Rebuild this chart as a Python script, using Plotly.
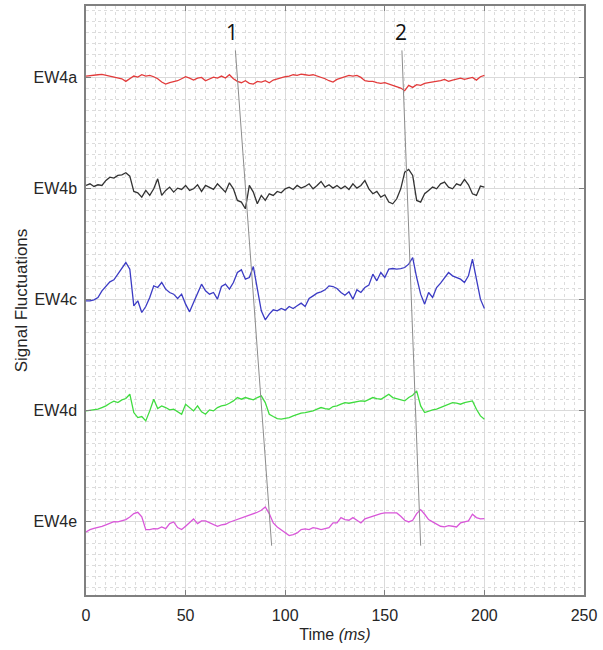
import plotly.graph_objects as go

# ---------------- data ----------------
time_ms = list(range(0, 201, 2))

channel_names = ["EW4a", "EW4b", "EW4c", "EW4d", "EW4e"]
channel_offsets = [500, 400, 300, 200, 100]
channel_colors = ["#e23b3b", "#333333", "#3b3bc4", "#3fdc3f", "#d957d9"]

ew4a = [0.9, 1.5, 2.1, 2.1, 2.4, 1.5, 0.9, -0.3, -0.9, -1.5,
        -3.9, -1.5, 0.9, 0.0, 2.1, 0.9, 1.5, 0.3, -1.5, -4.5,
        -6.3, -5.1, -4.5, -3.3, -1.5, 0.3, -0.9, -2.7, -0.9, -0.3,
        -3.3, -1.5, 0.0, -0.9, 0.9, -0.9, 2.1, -1.5, -3.9, -5.1,
        -3.3, -5.7, -6.3, -3.9, -4.5, -3.3, -5.1, -2.7, -1.5, -0.9,
        0.3, 0.9, 2.1, 1.5, 2.7, 2.1, 1.5, 2.1, 0.9, 0.3,
        -1.5, -3.3, -4.5, -2.1, -0.9, 0.3, 1.5, 0.9, 1.5, -0.3,
        -3.3, -3.9, -3.9, -5.1, -5.7, -5.1, -6.3, -8.1, -8.7, -9.9,
        -12.3, -7.5, -9.3, -6.9, -7.5, -5.7, -5.1, -4.5, -4.5, -3.3,
        -2.1, -3.9, -2.7, -1.5, -0.9, -2.1, -1.5, -0.3, -2.7, 0.3,
        1.5]

ew4b = [2.4, 3.9, 1.5, 3.0, 2.4, 6.9, 9.9, 9.0, 11.4, 12.0,
        13.8, 10.8, -3.0, -4.2, -8.1, -2.1, -6.6, -0.6, 8.4, -6.6,
        -2.1, 0.9, -3.6, 0.0, -1.2, 2.4, -2.1, -0.6, 3.0, -3.0,
        2.4, 0.9, -1.2, 3.9, 0.0, -3.6, 4.8, -0.6, -11.1, -12.6,
        -18.6, 2.4, -3.6, -14.1, -6.6, -11.1, -5.1, -6.6, -3.0, -4.2,
        -0.6, 0.9, -1.2, 2.4, 0.0, 1.5, 3.9, -0.6, 2.4, 6.0,
        0.9, 3.0, 0.0, 2.4, -0.6, 1.8, -1.2, 3.9, 0.0, 2.4,
        6.9, -0.6, -5.1, -3.0, -8.1, -6.0, -12.6, -14.1, -9.6, -0.6,
        14.4, 16.8, 11.4, -11.1, -12.6, -5.1, -2.1, 0.9, -0.6, 3.9,
        5.4, 0.9, -0.6, 3.9, 2.4, 7.8, 3.0, -5.1, -6.6, 1.8,
        0.9]

ew4c = [-1.5, -1.5, -0.6, 1.5, 7.5, 11.4, 15.6, 17.4, 22.5, 27.0,
        33.0, 27.0, -6.0, -1.5, -12.0, -6.6, 1.5, 12.0, 10.5, 15.0,
        9.0, 6.0, 4.5, 0.6, 4.5, -4.5, -11.4, -3.0, 4.5, 13.5,
        7.5, 4.5, 6.0, 0.0, 11.4, 13.5, 9.0, 15.0, 24.0, 26.4,
        18.0, 19.5, 29.4, 9.0, -10.5, -18.6, -13.5, -9.6, -10.5, -8.4,
        -9.9, -6.6, -8.4, -6.0, -3.6, -6.6, 0.6, 3.0, 5.4, 6.6,
        8.4, 12.0, 11.4, 9.6, 6.0, 3.6, 6.6, 0.0, 8.4, 6.0,
        10.5, 12.6, 22.5, 16.5, 24.0, 19.5, 27.0, 27.6, 27.0, 27.6,
        28.5, 31.5, 37.5, 19.5, 4.5, -4.5, 6.0, 1.5, 10.5, 14.4,
        19.5, 24.0, 21.0, 19.5, 18.0, 15.0, 21.0, 36.0, 18.0, 0.0,
        -8.4]

ew4d = [-0.6, 0.0, 0.3, 0.9, 2.4, 3.9, 6.3, 8.1, 6.9, 9.3,
        10.5, 14.4, -2.1, -6.6, -5.7, -9.6, -0.6, 9.9, 1.5, 3.9,
        2.4, 0.3, 0.9, -1.5, -3.6, 5.4, 2.4, -0.6, 3.9, -1.5,
        -3.6, 0.3, -0.6, 2.4, 3.9, 4.5, 6.3, 8.4, 11.4, 9.9,
        11.4, 10.5, 9.3, 11.4, 12.9, 6.9, -3.6, -5.7, -7.5, -8.1,
        -7.5, -6.6, -5.1, -3.6, -2.7, -2.1, -1.5, -0.6, 0.9, 2.4,
        1.5, 0.9, 3.3, 3.9, 5.4, 6.9, 6.3, 6.9, 7.5, 8.4,
        8.1, 9.9, 11.4, 10.5, 9.9, 12.0, 14.4, 11.4, 10.5, 9.3,
        8.4, 11.4, 13.5, 17.4, 3.9, -2.1, -0.6, 0.3, 0.9, 2.4,
        3.9, 5.4, 6.9, 6.3, 5.4, 6.9, 7.5, 8.4, 0.9, -5.1,
        -8.1]

ew4e = [-9.6, -7.5, -6.3, -5.7, -4.5, -3.3, -2.1, -0.3, -0.6, 0.3,
        1.5, 3.9, 6.9, 8.1, 3.9, -7.5, -7.5, -6.6, -6.9, -5.1,
        -6.6, -2.1, -0.6, -5.7, -7.5, -4.5, -0.9, 2.1, -2.1, 0.3,
        0.3, -1.2, -2.7, -4.5, -3.3, -2.7, -0.9, 0.3, 1.5, 2.7,
        3.9, 5.1, 6.3, 8.1, 9.9, 12.9, 6.9, -1.5, -5.1, -7.5,
        -10.5, -12.9, -12.0, -10.5, -7.5, -6.9, -7.5, -5.7, -6.3, -7.5,
        -6.6, -5.7, -1.5, -1.5, 3.3, 1.5, 0.9, 3.3, 0.9, -1.5,
        2.1, 3.3, 4.5, 6.3, 6.9, 7.5, 7.5, 8.1, 7.5, 4.5,
        0.9, -0.6, 0.9, 6.9, 10.5, 6.3, 1.5, -0.6, -2.7, -4.5,
        -5.1, -3.9, -4.5, -5.1, -1.5, -0.9, 0.3, 6.3, 3.3, 2.1,
        2.4]

channel_values = [ew4a, ew4b, ew4c, ew4d, ew4e]

# propagation marker lines (1, 2)
marker_labels = ["1", "2"]
marker_t_top = [75.0, 158.6]
marker_t_bottom = [93.2, 168.0]
marker_y_top = 524
marker_y_bottom = 78
marker_label_t = [73.3, 158.1]
marker_label_y = 541

x_ticks = [0, 50, 100, 150, 200, 250]
x_range = [0, 250]
y_range = [33.6, 564]

# ---------------- figure ----------------
fig = go.Figure()

for name, off, col, vals in zip(channel_names, channel_offsets, channel_colors, channel_values):
    fig.add_trace(go.Scatter(
        x=time_ms, y=[off + v for v in vals], mode="lines",
        line=dict(color=col, width=1.3), name=name, showlegend=False,
        hoverinfo="skip"))

for lab, t0, t1 in zip(marker_labels, marker_t_top, marker_t_bottom):
    fig.add_trace(go.Scatter(
        x=[t0, t1], y=[marker_y_top, marker_y_bottom], mode="lines",
        line=dict(color="#8c8c8c", width=1), showlegend=False, hoverinfo="skip"))

for lab, t in zip(marker_labels, marker_label_t):
    fig.add_annotation(x=t, y=marker_label_y, text=lab, showarrow=False,
                       font=dict(family="Open Sans, Liberation Sans", size=21, color="#111111"),
                       xanchor="center", yanchor="middle")

axis_common = dict(
    showline=True, linecolor="#808080", linewidth=1.5, mirror="ticks",
    ticks="inside", ticklen=5, tickcolor="#808080", tickwidth=1,
    showgrid=True, gridcolor="#dadada", gridwidth=1,
    zeroline=False,
    tickfont=dict(family="Liberation Sans, Arial", size=16, color="#262626"),
)

fig.update_xaxes(
    range=x_range, tickvals=x_ticks, ticktext=[str(v) for v in x_ticks],
    minor=dict(dtick=5, showgrid=True, gridcolor="#dcdcdc", griddash="dot", gridwidth=1),
    title=dict(text="Time <i>(ms)</i>", standoff=6,
               font=dict(family="Liberation Sans, Arial", size=16, color="#262626")),
    ticklabelstandoff=5,
    **axis_common)

fig.update_yaxes(
    range=y_range, tickvals=channel_offsets, ticktext=channel_names,
    minor=dict(dtick=10, showgrid=True, gridcolor="#dcdcdc", griddash="dot", gridwidth=1),
    title=dict(text="Signal Fluctuations", standoff=2,
               font=dict(family="Liberation Sans, Arial", size=17, color="#262626")),
    ticklabelstandoff=4,
    **axis_common)

fig.update_layout(
    width=603, height=650,
    margin=dict(l=86, r=19, t=4, b=55),
    paper_bgcolor="white", plot_bgcolor="white",
    showlegend=False,
)

fig.write_html("out.html")
